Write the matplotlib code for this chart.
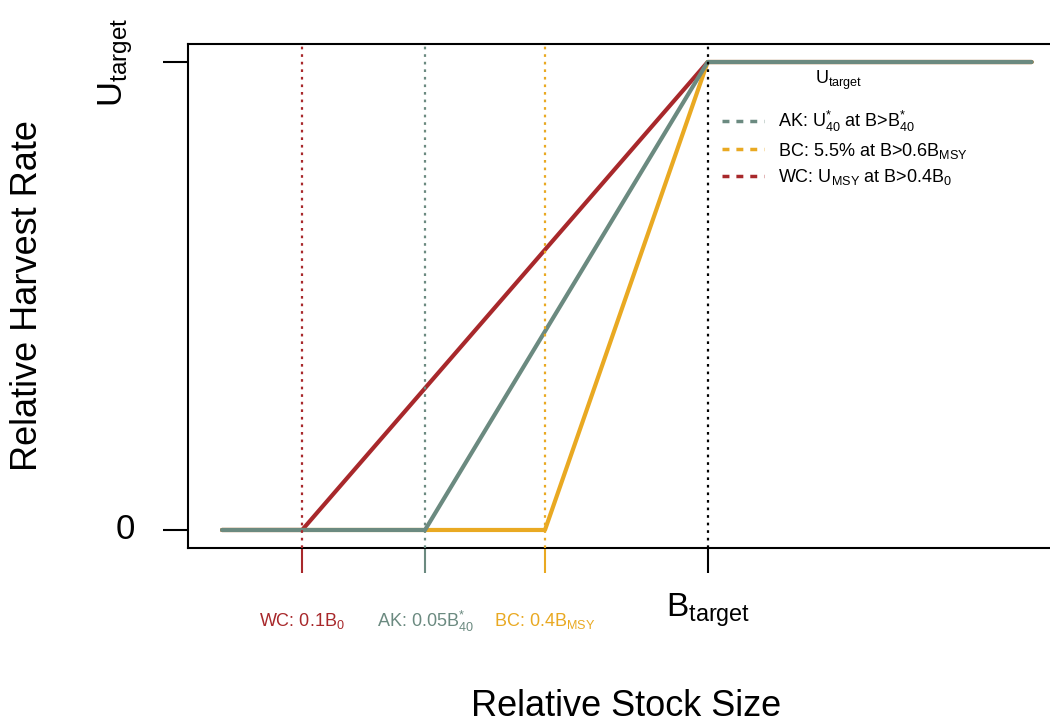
import matplotlib
matplotlib.use("Agg")
import matplotlib.pyplot as plt
import matplotlib.transforms as mtransforms

plt.rcParams['font.family'] = ['Liberation Sans', 'DejaVu Sans']
plt.rcParams['mathtext.fontset'] = 'custom'
plt.rcParams['mathtext.rm'] = 'Liberation Sans'
plt.rcParams['mathtext.it'] = 'Liberation Sans:italic'

# control rules (relative stock size, relative harvest rate)
regions = ['WC', 'BC', 'AK']
colori = ['#A8282B', '#E9A922', '#6B8A80']
b_lower = [0.165, 0.665, 0.418]
x_start = 0.0
b_target = 1.0
x_end = 1.667
u_target = 1.0

etichette_basse = {
    'WC': r'WC: 0.1$\mathrm{B_0}$',
    'AK': r'AK: 0.05$\mathrm{B}^{*}_{40}$',
    'BC': r'BC: 0.4$\mathrm{B_{MSY}}$',
}
etichette_legenda = {
    'AK': r'AK: $\mathrm{U}^{*}_{40}$ at B>$\mathrm{B}^{*}_{40}$',
    'BC': r'BC: 5.5% at B>0.6$\mathrm{B_{MSY}}$',
    'WC': r'WC: $\mathrm{U_{MSY}}$ at B>0.4$\mathrm{B_0}$',
}

fig = plt.figure(figsize=(10.5, 7.25), dpi=100)
ax = fig.add_axes([188 / 1050, 177 / 725, (1064 - 188) / 1050, 504 / 725])

for reg, col, bl in zip(regions, colori, b_lower):
    ax.plot([x_start, bl, b_target, x_end], [0, 0, u_target, u_target],
            color=col, lw=3, solid_capstyle='round', zorder=3)

for reg, col, bl in zip(regions, colori, b_lower):
    ax.axvline(bl, color=col, ls=(0, (1.2, 2.2)), lw=1.6, zorder=4)
ax.axvline(b_target, color='black', ls=(0, (1.2, 2.2)), lw=1.6, zorder=4)

span = x_end - x_start
ax.set_xlim(x_start - 0.07, x_end + 0.04 * span)
ax.set_ylim(-0.0385, 1.0385)

for s in ax.spines.values():
    s.set_linewidth(1.5)

# asse y
ax.set_yticks([0, u_target])
ax.set_yticklabels(['0', r'$\mathrm{U_{target}}$'], va='center', fontsize=25)
ax.tick_params(axis='y', length=18, width=1.5, pad=20)
ylabs = ax.get_yticklabels()
ylabs[1].set_rotation(90)

# asse x: tacche colorate disegnate a mano
trans = mtransforms.blended_transform_factory(ax.transData, ax.transAxes)
ax.set_xticks([])
tick_len = 25 / 504
ax.vlines(list(b_lower) + [b_target], -tick_len, 0, colors=colori + ['black'],
          lw=1.5, transform=trans, clip_on=False)

for reg, col, bl in zip(regions, colori, b_lower):
    ax.text(bl, (548 - 621) / 504, etichette_basse[reg], color=col, fontsize=13,
            ha='center', va='center', transform=trans)
ax.text(b_target, (548 - 610) / 504, r'$\mathrm{B_{target}}$', fontsize=24,
        ha='center', va='center', transform=trans)

ax.text(1.27, 0.96, r'$\mathrm{U_{target}}$', fontsize=13, ha='center', va='center')

# legenda
handles = []
for reg in ['AK', 'BC', 'WC']:
    col = colori[regions.index(reg)]
    h, = ax.plot([], [], color=col, ls=(0, (2, 2)), lw=2.5, label=etichette_legenda[reg])
    handles.append(h)
ax.legend(handles=handles, loc='upper left', bbox_to_anchor=((715 - 188) / 876, (548 - 102) / 504),
          frameon=False, fontsize=13, handlelength=2.3, labelspacing=0.35, handletextpad=0.8,
          borderaxespad=0)

fig.text(626 / 1050, 1 - 706 / 725, 'Relative Stock Size', fontsize=26, ha='center', va='center')
fig.text(28 / 1050, 1 - 296 / 725, 'Relative Harvest Rate', fontsize=26, ha='center', va='center',
         rotation=90)

fig.savefig('out.png', dpi=100)
